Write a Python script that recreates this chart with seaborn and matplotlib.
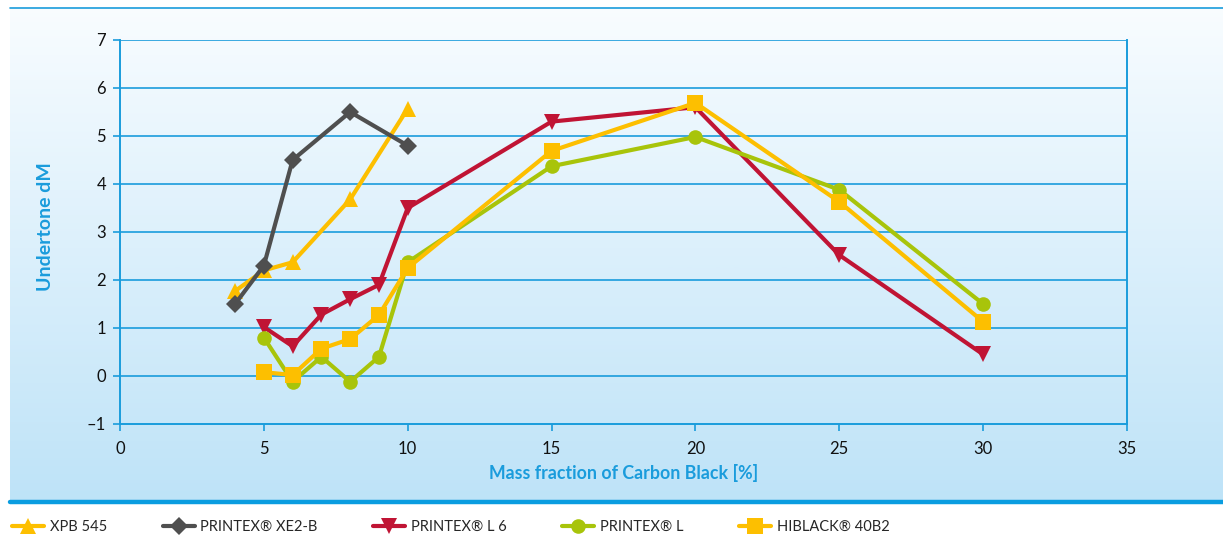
import numpy as np
import pandas as pd
import matplotlib
matplotlib.use("Agg")
import matplotlib.pyplot as plt
from matplotlib.lines import Line2D
import seaborn as sns

# ---- data ----
series_names = ["XPB 545", "PRINTEX\u00ae XE2-B", "PRINTEX\u00ae L 6", "PRINTEX\u00ae L", "HIBLACK\u00ae 40B2"]

xpb_x = [4, 5, 6, 8, 10]
xpb_y = [1.77, 2.2, 2.37, 3.68, 5.57]

xe2_x = [4, 5, 6, 8, 10]
xe2_y = [1.5, 2.3, 4.5, 5.5, 4.8]

l6_x = [5, 6, 7, 8, 9, 10, 15, 20, 25, 30]
l6_y = [1.02, 0.62, 1.28, 1.6, 1.9, 3.5, 5.3, 5.6, 2.52, 0.45]

pl_x = [5, 6, 7, 8, 9, 10, 15, 20, 25, 30]
pl_y = [0.8, -0.12, 0.4, -0.12, 0.4, 2.37, 4.37, 4.98, 3.88, 1.5]

hb_x = [5, 6, 7, 8, 9, 10, 15, 20, 25, 30]
hb_y = [0.08, 0.02, 0.57, 0.77, 1.27, 2.25, 4.69, 5.69, 3.63, 1.13]

x_ticks = [0, 5, 10, 15, 20, 25, 30, 35]
y_ticks = [-1, 0, 1, 2, 3, 4, 5, 6, 7]

x_label = "Mass fraction of Carbon Black [%]"
y_label = "Undertone dM"

colors = ["#fdbf00", "#4f4f4f", "#c01434", "#a8c40a", "#fdbf00"]
markers = ["^", "D", "v", "o", "s"]
msizes = [11, 9.5, 11, 10.5, 11]

all_x = [xpb_x, xe2_x, l6_x, pl_x, hb_x]
all_y = [xpb_y, xe2_y, l6_y, pl_y, hb_y]

# ---- figure ----
sns.set_theme(style="white")
plt.rcParams['font.family'] = ['Lato', 'DejaVu Sans']

W, H = 1223, 537
fig = plt.figure(figsize=(W / 100, H / 100), dpi=100)
fig.patch.set_facecolor("white")

# gradient background panel
bg = fig.add_axes([10 / W, 1 - 501 / H, (W - 10) / W, (501 - 7) / H], zorder=0)
grad = np.linspace(0, 1, 256)[:, None]
c_top = np.array([0.975, 0.99, 1.0])
c_bot = np.array([0.745, 0.89, 0.972])
img = c_top[None, None, :] * (1 - grad[:, :, None]) + c_bot[None, None, :] * grad[:, :, None]
bg.imshow(img, aspect="auto", extent=[0, 1, 0, 1], origin="upper")
bg.set_axis_off()
blue = "#1a9cdc"
fig.add_artist(Line2D([10 / W, 1], [1 - 7.5 / H, 1 - 7.5 / H], color=blue, lw=1.2, transform=fig.transFigure))
fig.add_artist(Line2D([10 / W, 1], [1 - 502 / H, 1 - 502 / H], color="#0a9de0", lw=3.2, transform=fig.transFigure))

ax = fig.add_axes([120 / W, 1 - 424 / H, (1127 - 120) / W, (424 - 40) / H], zorder=1)
ax.set_facecolor("none")

for xs, ys, c, m, ms in zip(all_x, all_y, colors, markers, msizes):
    df = pd.DataFrame({"x": xs, "y": ys})
    sns.lineplot(data=df, x="x", y="y", ax=ax, color=c, marker=m, markersize=ms,
                 markeredgewidth=0, linewidth=3.0, sort=False, zorder=3)

ax.set_xlim(0, 35)
ax.set_ylim(-1, 7)
ax.set_xticks(x_ticks)
ax.set_xticklabels([str(v) for v in x_ticks])
ax.set_yticks(y_ticks)
ax.set_yticklabels([str(v).replace("-", "\u2013") for v in y_ticks])
for yv in y_ticks[1:]:
    ax.axhline(yv, color=blue, lw=1.2, zorder=1)

for s in ["left", "right", "bottom"]:
    ax.spines[s].set_visible(True)
    ax.spines[s].set_color(blue)
    ax.spines[s].set_linewidth(1.4)
ax.spines["top"].set_visible(False)
ax.tick_params(axis="both", which="both", direction="out", color=blue, width=1.2,
               labelsize=12, labelcolor="#111111")
ax.tick_params(axis="x", length=5, pad=7, bottom=True)
ax.tick_params(axis="y", length=5, pad=5, left=True)

ax.set_xlabel(x_label, color=blue, fontsize=12.8, fontweight="bold")
ax.xaxis.set_label_coords(0.5, -0.105)
ax.set_ylabel(y_label, color=blue, fontsize=14, fontweight="bold")
ax.yaxis.set_label_coords(-0.0655, 0.513)

handles = [Line2D([0], [0], color=c, marker=m, markersize=ms, markeredgewidth=0, lw=3.0)
           for c, m, ms in zip(colors, markers, msizes)]
fig.legend(handles, series_names, loc="center left", bbox_to_anchor=(12 / W, 1 - 527 / H),
           ncol=5, frameon=False, fontsize=10.5, handlelength=2.2, handletextpad=0.4,
           columnspacing=3.8, borderaxespad=0, borderpad=0)

fig.savefig("out.png", dpi=100)
